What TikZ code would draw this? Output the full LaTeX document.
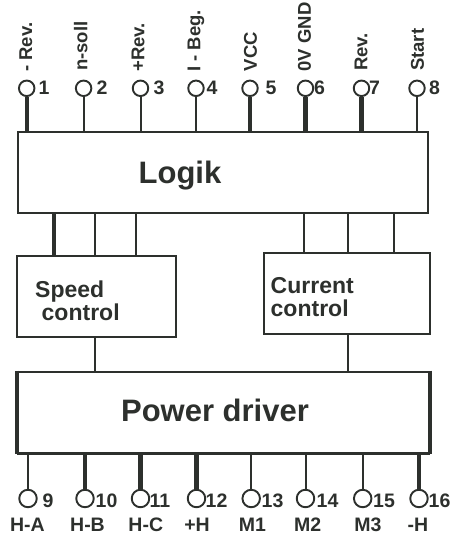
\documentclass[tikz,border=0pt]{standalone}
\usepackage{fontspec}
\setmainfont{Liberation Sans}
\definecolor{ink}{RGB}{45,48,45}
\begin{document}
\begin{tikzpicture}[x=1pt,y=-1pt,
  every node/.style={text=ink},
  pin/.style={draw=ink,circle,line width=1.9pt,inner sep=0pt,minimum size=#1},
  pin/.default=15.5pt,
  box/.style={draw=ink,line width=2pt,rectangle,inner sep=0pt},
  wthin/.style={draw=ink,line width=2pt},
  wthick/.style={draw=ink,line width=4.3pt},
  num/.style={anchor=base west,inner sep=0pt,font=\fontsize{19.5}{22}\selectfont\bfseries},
  vlab/.style={rotate=90,anchor=base west,inner sep=0pt,font=\fontsize{18.5}{21}\selectfont\bfseries},
  blab/.style={anchor=base,inner sep=0pt,font=\fontsize{19.5}{22}\selectfont\bfseries},
  big/.style={anchor=base,inner sep=0pt,font=\fontsize{31}{34}\selectfont\bfseries},
  mid/.style={anchor=base west,inner sep=0pt,font=\fontsize{23}{26}\selectfont\bfseries}]
\useasboundingbox (0,0) rectangle (457,536);

% boxes
\node[box,minimum width=410.8pt,minimum height=81.6pt] (logik) at (222.9,172.5) {};
\node[box,minimum width=158.4pt,minimum height=81.6pt] (speed) at (96.5,296.5) {};
\node[box,minimum width=166pt,minimum height=80.7pt] (current) at (347.3,293.65) {};
\node[box,minimum width=411.5pt,minimum height=81pt] (power) at (223.25,412.2) {};
\draw[draw=ink,line width=4pt] (power.north west) -- (power.south west);
\draw[draw=ink,line width=3.5pt] (power.north east) -- (power.south east);
\draw[draw=ink,line width=3pt] (power.south west) -- (power.south east);

% box texts
\node[big] (tlogik) at (180,183.3) {Logik};
\node[big] (tpower) at (215,421.7) {Power driver};
\node[mid] (tspeed1) at (35,297.3) {Speed};
\node[mid] (tspeed2) at (41.5,320.7) {control};
\node[mid] (tcur1) at (270.5,293.3) {Current};
\node[mid] (tcur2) at (270.5,316.7) {control};

% top pins
\node[pin] (p1) at (26.7,88.3) {};
\node[pin] (p2) at (83.6,88.3) {};
\node[pin] (p3) at (140.5,88.3) {};
\node[pin] (p4) at (196,88.3) {};
\node[pin] (p5) at (250,88.3) {};
\node[pin] (p6) at (305.5,88.3) {};
\node[pin] (p7) at (361.5,88.3) {};
\node[pin] (p8) at (417,88.3) {};

\node[num] (n1) at (38.5,94.3) {1};
\node[num] (n2) at (96.5,94.3) {2};
\node[num] (n3) at (153.5,94.3) {3};
\node[num] (n4) at (206.5,94.3) {4};
\node[num] (n5) at (265.5,94.3) {5};
\node[num] (n6) at (314,94.3) {6};
\node[num] (n7) at (369,94.3) {7};
\node[num] (n8) at (429,94.3) {8};

\node[vlab] (l1) at (32,72) {- Rev.};
\node[vlab] (l2) at (87.3,71) {n-soll};
\node[vlab] (l3) at (144.3,72) {+Rev.};
\node[vlab] (l4) at (200.3,72) {I - Beg.};
\node[vlab] (l5) at (256.8,71.5) {VCC};
\node[vlab] (l6) at (310.8,71.5) {0V GND};
\node[vlab] (l7) at (367.3,71) {Rev.};
\node[vlab] (l8) at (423.8,71) {Start};

\draw[wthick] (p1.south) -- (p1.south |- logik.north);
\draw[wthin]  (p2.south) -- (p2.south |- logik.north);
\draw[wthin]  (p3.south) -- (p3.south |- logik.north);
\draw[wthin]  (p4.south) -- (p4.south |- logik.north);
\draw[wthick] (p5.south) -- (p5.south |- logik.north);
\draw[wthick] (p6.south) -- (p6.south |- logik.north);
\draw[wthick] (p7.south) -- (p7.south |- logik.north);
\draw[wthin]  (p8.south) -- (p8.south |- logik.north);

% logik to speed / current
\draw[wthick] ([xshift=37.7pt]speed.north west) -- ([xshift=37.7pt]speed.north west |- logik.south);
\draw[wthin]  ([xshift=78.7pt]speed.north west) -- ([xshift=78.7pt]speed.north west |- logik.south);
\draw[wthin]  ([xshift=119.4pt]speed.north west) -- ([xshift=119.4pt]speed.north west |- logik.south);
\draw[wthin]  ([xshift=40.7pt]current.north west) -- ([xshift=40.7pt]current.north west |- logik.south);
\draw[wthin]  ([xshift=84.7pt]current.north west) -- ([xshift=84.7pt]current.north west |- logik.south);
\draw[wthin]  ([xshift=130.4pt]current.north west) -- ([xshift=130.4pt]current.north west |- logik.south);

% speed / current to power
\draw[wthin] ([xshift=78.7pt]speed.south west) -- ([xshift=78.7pt]speed.south west |- power.north);
\draw[wthin] ([xshift=84.7pt]current.south west) -- ([xshift=84.7pt]current.south west |- power.north);

% bottom pins
\node[pin=17.5pt] (p9) at (28,498.5) {};
\node[pin=17.5pt] (p10) at (85,498.5) {};
\node[pin=17.5pt] (p11) at (140.5,498.5) {};
\node[pin=17.5pt] (p12) at (196.5,498.5) {};
\node[pin=17.5pt] (p13) at (251.2,498.5) {};
\node[pin=17.5pt] (p14) at (305.5,498.5) {};
\node[pin=17.5pt] (p15) at (362.7,498.5) {};
\node[pin=17.5pt] (p16) at (419,498.5) {};

\node[num] (n9) at (42.5,507.5) {9};
\node[num] (n10) at (95.5,507.5) {10};
\node[num] (n11) at (149.5,507.5) {11};
\node[num] (n12) at (205.5,507.5) {12};
\node[num] (n13) at (261.5,507.5) {13};
\node[num] (n14) at (316.5,507.5) {14};
\node[num] (n15) at (373,507.5) {15};
\node[num] (n16) at (428.5,507.5) {16};

\node[blab] (b9) at (27.5,531.5) {H-A};
\node[blab] (b10) at (87.5,531.5) {H-B};
\node[blab] (b11) at (145.8,531.5) {H-C};
\node[blab] (b12) at (197,531.5) {+H};
\node[blab] (b13) at (252.5,531.5) {M1};
\node[blab] (b14) at (307.7,531.5) {M2};
\node[blab] (b15) at (368,531.5) {M3};
\node[blab] (b16) at (418,531.5) {-H};

\draw[wthin]  (p9.north) -- (p9.north |- power.south);
\draw[wthick] (p10.north) -- (p10.north |- power.south);
\draw[wthick] (p11.north) -- (p11.north |- power.south);
\draw[wthick] (p12.north) -- (p12.north |- power.south);
\draw[wthin]  (p13.north) -- (p13.north |- power.south);
\draw[wthin]  (p14.north) -- (p14.north |- power.south);
\draw[wthin]  (p15.north) -- (p15.north |- power.south);
\draw[wthick] (p16.north) -- (p16.north |- power.south);
\end{tikzpicture}
\end{document}
